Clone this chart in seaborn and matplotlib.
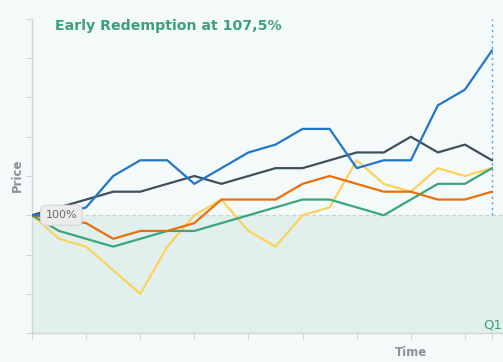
import pandas as pd
import matplotlib.pyplot as plt
import seaborn as sns

# --------------------------------------------
# Data (price in % of initial level, 18 observation dates)
# --------------------------------------------
steps = list(range(18))
blue = [100, 100, 101, 105, 107, 107, 104, 106, 108, 109, 111, 111, 106, 107, 107, 114, 116, 121]
grey = [100, 101, 102, 103, 103, 104, 105, 104, 105, 106, 106, 107, 108, 108, 110, 108, 109, 107]
orange = [100, 99.5, 99, 97, 98, 98, 99, 102, 102, 102, 104, 105, 104, 103, 103, 102, 102, 103]
green = [100, 98, 97, 96, 97, 98, 98, 99, 100, 101, 102, 102, 101, 100, 102, 104, 104, 106]
yellow = [100, 97, 96, 93, 90, 96, 100, 102, 98, 96, 100, 101, 107, 104, 103, 106, 105, 106]

series = {"yellow": yellow, "green": green, "orange": orange, "grey": grey, "blue": blue}
palette = {"yellow": "#fbd35c", "green": "#3aa57f", "orange": "#e8700c",
           "grey": "#3f505c", "blue": "#2176c9"}

df = pd.concat([pd.DataFrame({"step": steps, "price": v, "name": k}) for k, v in series.items()])

# --------------------------------------------
# Figure
# --------------------------------------------
sns.set_style("white")
bg = "#f4f9f9"
fig = plt.figure(figsize=(5.03, 3.62), dpi=100, facecolor=bg)
ax = fig.add_axes([32 / 503, 29 / 362, 471 / 503, 314 / 362])
ax.set_facecolor(bg)

x_max = 17 * 471 / 460
ax.axhspan(85, 100, color="#e2f0ed", zorder=0)
ax.axhline(100, color="#c8cfcf", lw=0.8, ls=(0, (3, 3)), zorder=1)
ax.plot([17, 17], [100, 125], color="#5b9bd5", lw=1, ls=(0, (1.5, 2.5)), zorder=1)

sns.lineplot(data=df, x="step", y="price", hue="name", palette=palette,
             linewidth=1.6, legend=False, ax=ax, zorder=3)

ax.set_xlim(0, x_max)
ax.set_ylim(85, 125)
ax.set_xticks([0, 2, 4, 6, 8, 10, 12, 14, 16, 17])
ax.set_yticks([85, 90, 95, 100, 105, 110, 115, 120, 125])
ax.set_xticklabels([])
ax.set_yticklabels([])
ax.tick_params(axis="both", direction="out", length=4, width=0.8, color="#d0d5d6", bottom=True, left=True)
for s in ["top", "right"]:
    ax.spines[s].set_visible(False)
for s in ["left", "bottom"]:
    ax.spines[s].set_color("#d0d5d6")
    ax.spines[s].set_linewidth(1)

ax.set_xlabel("")
ax.set_ylabel("")
fig.text(411 / 503, 1 - 352 / 362, "Time", ha="center", va="center",
         fontsize=8.5, fontweight="bold", color="#8a9096")
fig.text(17 / 503, 1 - 175 / 362, "Price", ha="center", va="center", rotation=90,
         fontsize=8.5, fontweight="bold", color="#8a9096")

fig.text(55 / 503, 1 - 26 / 362, "Early Redemption at 107,5%", ha="left", va="center",
         fontsize=10.2, fontweight="bold", color="#3d9f80")
fig.text(502 / 503, 1 - 325 / 362, "Q1", ha="right", va="center",
         fontsize=9.5, color="#3d9f80")

ax.text(0.5, 100, "100%", ha="left", va="center", fontsize=8, color="#666b70", zorder=5,
        bbox=dict(boxstyle="round,pad=0.45", fc="#ececec", ec="#d6d6d6", lw=0.8))

plt.savefig("out.png", dpi=100, facecolor=bg)
plt.close()
